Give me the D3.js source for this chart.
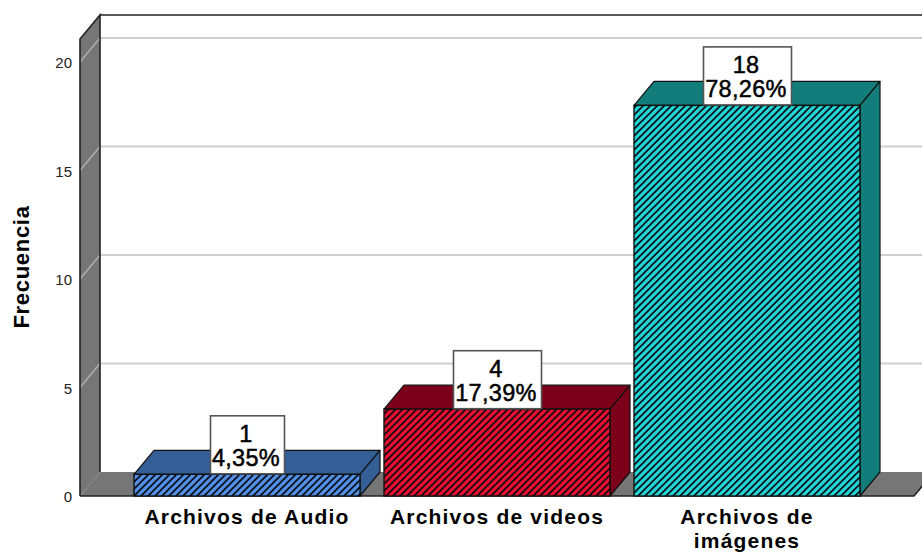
<!DOCTYPE html>
<html>
<head>
<meta charset="utf-8">
<script src="https://cdn.jsdelivr.net/npm/d3@7"></script>
<style>
html, body { margin: 0; padding: 0; background: #fff; overflow: hidden; }
svg { display: block; font-family: "Liberation Sans", Arial, sans-serif; }
</style>
</head>
<body>
<svg width="922" height="552"></svg>
<script>
var categories = ['Archivos de Audio', 'Archivos de videos', 'Archivos de imágenes'];
var counts = [1, 4, 18];
var percents = ['4,35%', '17,39%', '78,26%'];
var frontColors = ['#4f90e6', '#e8102f', '#1fd4d4'];
var sideColors = ['#335f96', '#7d001a', '#127d7a'];
var yTicks = [0, 5, 10, 15, 20];

var svg = d3.select('svg');
var depthX = 20, depthY = -24;
var floorY = 496;

var y = d3.scaleLinear().domain([0, 20]).range([floorY, 62]);
var x = d3.scaleBand().domain(categories).range([122, 872]).paddingInner(0.096).paddingOuter(0.048);

var wallLeft = 80, wallRight = 914, yMax = y(21.06);

function poly(points, fill, stroke, width) {
    return svg.append('polygon')
        .attr('points', points.map(function (p) { return p.join(','); }).join(' '))
        .attr('fill', fill)
        .attr('stroke', stroke || 'none')
        .attr('stroke-width', width || 0)
        .attr('stroke-linejoin', 'round');
}

// hatch patterns, one per bar colour
var defs = svg.append('defs');
frontColors.forEach(function (c, i) {
    var p = defs.append('pattern')
        .attr('id', 'hatch' + i)
        .attr('patternUnits', 'userSpaceOnUse')
        .attr('width', 7).attr('height', 7);
    p.append('rect').attr('width', 7).attr('height', 7).attr('fill', c);
    p.append('path')
        .attr('d', 'M-1,1 L1,-1 M-1,8 L8,-1 M6,8 L8,6')
        .attr('stroke', '#0a0a14')
        .attr('stroke-width', 1.6);
});

// back wall outline and floor
svg.append('line')
    .attr('x1', wallLeft + depthX).attr('x2', 922)
    .attr('y1', yMax + depthY).attr('y2', yMax + depthY)
    .attr('stroke', '#222').attr('stroke-width', 1.6);

// left wall
poly([[wallLeft, yMax], [wallLeft + depthX, yMax + depthY], [wallLeft + depthX, floorY + depthY], [wallLeft, floorY]], '#767676');
// floor
poly([[wallLeft, floorY], [wallLeft + depthX, floorY + depthY], [wallRight + depthX, floorY + depthY], [wallRight, floorY]], '#767676');

// gridlines, back wall and running down the side wall
yTicks.forEach(function (t) {
    if (t > 0) {
        svg.append('line')
            .attr('x1', wallLeft + depthX).attr('x2', 922)
            .attr('y1', y(t) + depthY).attr('y2', y(t) + depthY)
            .attr('stroke', '#cfcfcf').attr('stroke-width', 2);
        svg.append('line')
            .attr('x1', wallLeft).attr('x2', wallLeft + depthX)
            .attr('y1', y(t)).attr('y2', y(t) + depthY)
            .attr('stroke', '#b4b4b4').attr('stroke-width', 1.2);
    }
});

// wall edges
svg.append('path')
    .attr('d', d3.line()([[wallLeft, floorY], [wallLeft, yMax], [wallLeft + depthX, yMax + depthY], [wallLeft + depthX, floorY + depthY]]))
    .attr('fill', 'none').attr('stroke', '#222').attr('stroke-width', 1.6);
svg.append('path')
    .attr('d', d3.line()([[wallLeft, floorY], [wallRight, floorY], [wallRight + depthX, floorY + depthY]]))
    .attr('fill', 'none').attr('stroke', '#222').attr('stroke-width', 1.6);

// bars
categories.forEach(function (c, i) {
    var x0 = x(c), x1 = x0 + x.bandwidth(), top = y(counts[i]);
    poly([[x0, top], [x0 + depthX, top + depthY], [x1 + depthX, top + depthY], [x1, top]], sideColors[i], '#111', 1.2);
    poly([[x1, top], [x1 + depthX, top + depthY], [x1 + depthX, floorY + depthY], [x1, floorY]], sideColors[i], '#111', 1.2);
    svg.append('rect')
        .attr('x', x0).attr('y', top)
        .attr('width', x.bandwidth()).attr('height', floorY - top)
        .attr('fill', 'url(#hatch' + i + ')')
        .attr('stroke', '#111').attr('stroke-width', 1.4);
});

// value labels
categories.forEach(function (c, i) {
    var cx = x(c) + x.bandwidth() / 2, top = y(counts[i]);
    var boxW = i === 0 ? 74 : 88;
    svg.append('rect')
        .attr('x', cx - boxW / 2 + 0.5).attr('y', top - 58.5)
        .attr('width', boxW).attr('height', 58)
        .attr('fill', '#fff').attr('stroke', '#555').attr('stroke-width', 1.6);
    svg.append('text')
        .attr('x', cx - 1).attr('y', top - 32.5)
        .attr('text-anchor', 'middle').attr('font-size', 23.5)
        .attr('letter-spacing', 0.3)
        .attr('stroke', '#000').attr('stroke-width', 0.5)
        .text(counts[i]);
    svg.append('text')
        .attr('x', cx - 1).attr('y', top - 8)
        .attr('text-anchor', 'middle').attr('font-size', 23.5)
        .attr('letter-spacing', 0.3)
        .attr('stroke', '#000').attr('stroke-width', 0.5)
        .text(percents[i]);
});

// y axis
var yAxis = svg.append('g')
    .attr('transform', 'translate(' + wallLeft + ',1)')
    .call(d3.axisLeft(y).tickValues(yTicks).tickSize(0).tickPadding(8));
yAxis.select('.domain').remove();
yAxis.selectAll('text')
    .attr('font-family', '"Liberation Sans", Arial, sans-serif')
    .attr('font-size', 15).attr('fill', '#222');

svg.append('text')
    .attr('transform', 'translate(29,267) rotate(-90)')
    .attr('text-anchor', 'middle').attr('font-size', 22).attr('font-weight', 'bold')
    .attr('letter-spacing', 0.7)
    .text('Frecuencia');

// category labels
var xLines = [['Archivos de Audio'], ['Archivos de videos'], ['Archivos de', 'imágenes']];
categories.forEach(function (c, i) {
    xLines[i].forEach(function (line, j) {
        svg.append('text')
            .attr('x', x(c) + x.bandwidth() / 2)
            .attr('y', 524 + j * 23.5)
            .attr('text-anchor', 'middle').attr('font-size', 21).attr('font-weight', 'bold')
            .attr('letter-spacing', 1.2)
            .text(line);
    });
});
</script>
</body>
</html>
